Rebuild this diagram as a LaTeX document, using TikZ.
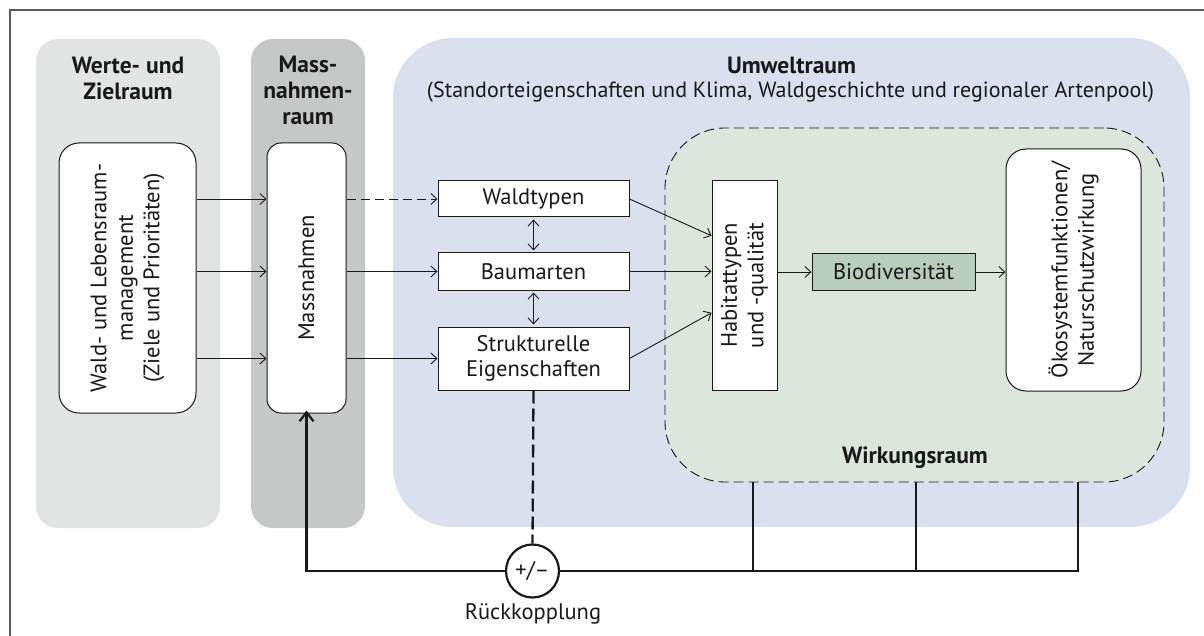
\documentclass[tikz,border=0pt]{standalone}
\usepackage{fontspec}
\setmainfont{PT Sans}
\usetikzlibrary{arrows.meta,calc}
\definecolor{lgray}{RGB}{227,228,228}
\definecolor{dgray}{RGB}{198,199,199}
\definecolor{lblue}{RGB}{219,224,238}
\definecolor{lgreen}{RGB}{221,230,221}
\definecolor{bgreen}{RGB}{184,205,187}
\definecolor{framec}{RGB}{90,90,90}
\definecolor{ink}{RGB}{25,25,25}
\tikzset{
  panel/.style={draw=none, rounded corners=22pt, inner sep=0pt},
  box/.style={draw=ink, line width=1pt, fill=white, inner sep=0pt},
  rbox/.style={box, rounded corners=18pt},
  txt/.style={font=\fontsize{22.5}{26.5}\selectfont, text=ink, align=center, inner sep=0pt},
  btxt/.style={txt, font=\fontsize{23.5}{26}\selectfont\bfseries},
  arr/.style={draw=ink, line width=0.9pt, -{Straight Barb[length=6pt,width=11pt,line width=0.9pt]}},
  darr/.style={draw=ink, line width=0.9pt, {Straight Barb[length=6pt,width=11pt,line width=0.9pt]}-{Straight Barb[length=6pt,width=11pt,line width=0.9pt]}},
  fbline/.style={draw=ink, line width=2.5pt},
  vline/.style={draw=ink, line width=1.8pt},
}
\begin{document}
\begin{tikzpicture}[x=1pt,y=-1pt]
\useasboundingbox (0,0) rectangle (1204,636);
% frame
\draw[framec, line width=1.6pt] (10,640) -- (10,10) -- (1210,10);
% panels
\node[panel, fill=lgray, minimum width=184pt, minimum height=489pt] (werte) at (128,283.5) {};
\node[panel, fill=dgray, minimum width=114pt, minimum height=489pt] (massr) at (308,283.5) {};
\node[panel, fill=lblue, rounded corners=60pt, minimum width=797pt, minimum height=489pt] (umwelt) at (791.5,282.5) {};
\node[draw=ink, dashed, dash pattern=on 10pt off 5pt, line width=0.9pt, fill=lgreen, rounded corners=60pt, minimum width=499pt, minimum height=354pt, inner sep=0pt] (wirk) at (914.5,305) {};
% panel titles
\node[btxt] (twerte) at (128,78) {Werte- und\\Zielraum};
\node[btxt] (tmass) at (308,90.5) {Mass-\\nahmen-\\raum};
\node[btxt] (tumw) at (791.5,65) {Umweltraum};
\node[txt, font=\fontsize{22}{26}\selectfont] (tumw2) at (790.5,92) {(Standorteigenschaften und Klima, Waldgeschichte und regionaler Artenpool)};
\node[btxt] (twirk) at (915,458) {Wirkungsraum};
% boxes
\node[rbox, rounded corners=20pt, minimum width=137pt, minimum height=270pt] (wl) at (127.5,278) {};
\node[txt, rotate=90] (wlt) at (wl) {Wald- und Lebensraum-\\management\\(Ziele und Prioritäten)};
\node[rbox, rounded corners=14pt, minimum width=79pt, minimum height=270pt] (mass) at (306.5,278) {};
\node[txt, rotate=90] (masst) at (mass) {Massnahmen};
\node[box, minimum width=191pt, minimum height=36pt] (wt) at (533.5,199) {};
\node[txt] at (wt) {Waldtypen};
\node[box, minimum width=191pt, minimum height=37pt] (ba) at (533.5,271.5) {};
\node[txt] at (ba) {Baumarten};
\node[box, minimum width=191pt, minimum height=63pt] (se) at (533.5,358.5) {};
\node[txt, font=\fontsize{22.5}{25}\selectfont] at (se) {Strukturelle\\Eigenschaften};
\node[box, minimum width=65pt, minimum height=209pt] (hab) at (744.5,285.5) {};
\node[txt, rotate=90] at (hab) {Habitattypen\\und -qualität};
\node[box, fill=bgreen, minimum width=163pt, minimum height=36pt] (bio) at (893.5,272) {};
\node[txt] at (bio) {Biodiversität};
\node[rbox, rounded corners=20pt, minimum width=135pt, minimum height=242pt] (oko) at (1073.5,270) {};
\node[txt, rotate=90] at (oko) {Ökosystemfunktionen/\\Naturschutzwirkung};
% feedback node
\node[draw=ink, line width=2.2pt, circle, minimum size=53pt, inner sep=0pt, fill=white, font=\fontsize{22.5}{26}\selectfont, text=ink] (fb) at (532.5,571) {+/–};
\node[txt] (fbl) at (533,614) {Rückkopplung};
% arrows left
\draw[arr] (wl.east |- wt) -- (mass.west |- wt);
\draw[arr] (wl.east |- ba) -- (mass.west |- ba);
\draw[arr] (wl.east |- se) -- (mass.west |- se);
\draw[arr, dashed, dash pattern=on 9pt off 5pt] (mass.east |- wt) -- (wt.west);
\draw[arr] (mass.east |- ba) -- (ba.west);
\draw[arr] (mass.east |- se) -- (se.west);
% double arrows
\draw[darr] ([yshift=-2pt]wt.south) -- ([yshift=2pt]ba.north);
\draw[darr] ([yshift=-2pt]ba.south) -- ([yshift=2pt]se.north);
% to habitat
\coordinate (h1) at ($(hab.north west)!0.263!(hab.south west)$);
\coordinate (h3) at ($(hab.north west)!0.63!(hab.south west)$);
\draw[arr] (wt.east) -- (h1);
\draw[arr] (ba.east) -- (hab.west |- ba);
\draw[arr] (se.east) -- (h3);
\draw[arr] (hab.east |- bio) -- (bio.west);
\draw[arr] (bio.east) -- (oko.west |- bio);
% feedback
\draw[ink, line width=2.3pt, dashed, dash pattern=on 13pt off 5pt] (se.south) -- (fb.north);
\draw[fbline, -{Straight Barb[length=9pt,width=14pt,line width=2.2pt]}] (fb.west) -| ([yshift=3pt]mass.south);
\coordinate (c1) at (753,571);
\coordinate (c2) at (916,571);
\coordinate (c3) at (1078,571);
\draw[fbline] (fb.east) -- ([xshift=1pt]c3);
\draw[vline] (wirk.south -| c1) -- (c1);
\draw[vline] (wirk.south -| c2) -- (c2);
\draw[vline] (wirk.south -| c3) -- (c3);
\end{tikzpicture}
\end{document}
